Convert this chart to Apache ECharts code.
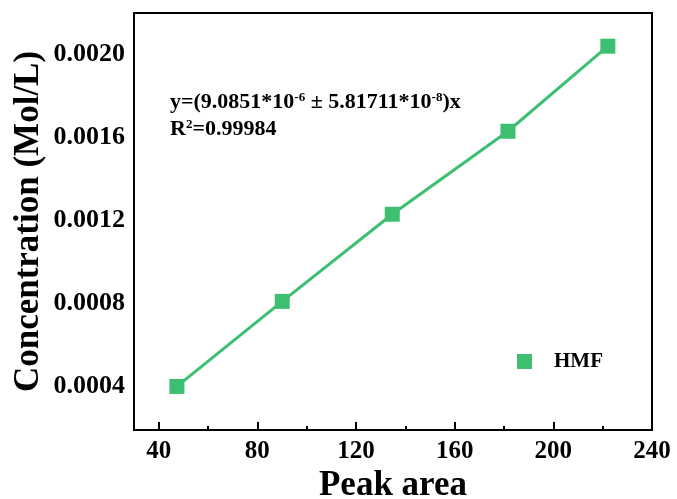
<!DOCTYPE html>
<html>
<head>
<meta charset="utf-8">
<script src="https://cdn.jsdelivr.net/npm/echarts@6/dist/echarts.min.js"></script>
<style>html,body{margin:0;padding:0;background:#fff;}#c{width:677px;height:499px;}</style>
</head>
<body>
<div id="c"></div>
<script>
// Data
const peakArea = [47.4, 90.1, 134.7, 181.6, 222.1];
const concentration = [0.00040, 0.00081, 0.00123, 0.00163, 0.00204];
const xTicks = [40, 80, 120, 160, 200, 240];
const xMinorTicks = [60, 100, 140, 180, 220];
const yTicks = [0.0004, 0.0008, 0.0012, 0.0016, 0.0020];
const seriesName = 'HMF';

const FONT = '"Liberation Serif", "Times New Roman", serif';
const GREEN = '#3dbf72';

const chart = echarts.init(document.getElementById('c'));
chart.setOption({
  backgroundColor: '#fff',
  animation: false,
  grid: { left: 134, right: 25, top: 13, bottom: 69, containLabel: false, outerBoundsMode: 'none',
    show: true, borderColor: '#000', borderWidth: 2, backgroundColor: 'transparent' },
  legend: {
    left: 517, top: 351, padding: 0, itemWidth: 15, itemHeight: 15, icon: 'rect',
    data: [seriesName],
    textStyle: { fontFamily: FONT, fontWeight: 'bold', fontSize: 21, color: '#000', padding: [0, 0, 0, 17] }
  },
  xAxis: [{
    type: 'value', min: 30, max: 240,
    name: 'Peak area', nameLocation: 'middle', nameGap: 31,
    nameTextStyle: { fontFamily: FONT, fontWeight: 'bold', fontSize: 35, color: '#000' },
    axisLine: { show: true, lineStyle: { color: '#000', width: 2 } },
    axisTick: { show: true, inside: true, length: 8, customValues: xTicks, lineStyle: { color: '#000', width: 2 } },
    axisLabel: { customValues: xTicks, margin: 9, fontFamily: FONT, fontWeight: 'bold', fontSize: 25, color: '#000' },
    splitLine: { show: false }
  }, {
    type: 'value', min: 30, max: 240, position: 'bottom',
    axisLine: { show: false },
    axisTick: { show: true, inside: true, length: 4, customValues: xMinorTicks, lineStyle: { color: '#000', width: 2 } },
    axisLabel: { show: false },
    splitLine: { show: false }
  }],
  yAxis: {
    type: 'value', min: 0.00019, max: 0.0022,
    name: 'Concentration (Mol/L)', nameLocation: 'middle', nameGap: 88, nameRotate: 90, nameMoveOverlap: false,
    nameTextStyle: { fontFamily: FONT, fontWeight: 'bold', fontSize: 35, color: '#000' },
    axisLine: { show: true, lineStyle: { color: '#000', width: 2 } },
    axisTick: { show: false },
    axisLabel: { customValues: yTicks, margin: 9, fontFamily: FONT, fontWeight: 'bold', fontSize: 26, color: '#000',
      formatter: v => v.toFixed(4) },
    splitLine: { show: false }
  },
  series: [{
    name: seriesName, type: 'line',
    data: peakArea.map((x, i) => [x, concentration[i]]),
    symbol: 'rect', symbolSize: 15,
    itemStyle: { color: GREEN },
    lineStyle: { color: GREEN, width: 3 }
  }],
  graphic: [{
    type: 'text', left: 170, top: 91,
    style: {
      text: '{n|y=(9.0851*10}{s|-6}{n| ± 5.81711*10}{s|-8}{n|)x}',
      rich: {
        n: { fontFamily: FONT, fontWeight: 'bold', fontSize: 22, color: '#000', lineHeight: 22 },
        s: { fontFamily: FONT, fontWeight: 'bold', fontSize: 13, color: '#000', lineHeight: 13, verticalAlign: 'top' }
      }
    }
  }, {
    type: 'text', left: 170, top: 118,
    style: {
      text: '{n|R}{s|2}{n|=0.99984}',
      rich: {
        n: { fontFamily: FONT, fontWeight: 'bold', fontSize: 22, color: '#000', lineHeight: 22 },
        s: { fontFamily: FONT, fontWeight: 'bold', fontSize: 13, color: '#000', lineHeight: 13, verticalAlign: 'top' }
      }
    }
  }]
});
</script>
</body>
</html>
